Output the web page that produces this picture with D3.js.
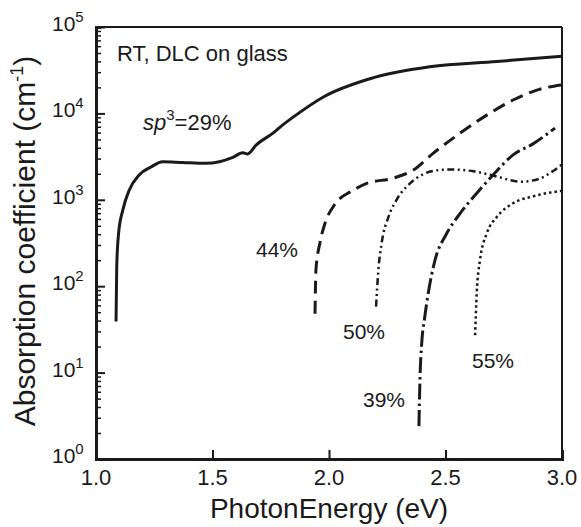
<!DOCTYPE html>
<html>
<head>
<meta charset="utf-8">
<script src="https://cdn.jsdelivr.net/npm/d3@7"></script>
<style>
  body { margin: 0; background: #fff; }
  text { font-family: "Liberation Sans", Arial, sans-serif; fill: #1a1a1a; }
</style>
</head>
<body>
<script>
// sp3 = 29% (solid)
var energy29 = [1.086, 1.089, 1.097, 1.115, 1.143, 1.185, 1.236, 1.286, 1.372, 1.472, 1.53, 1.587, 1.63, 1.651, 1.687, 1.758, 1.79, 1.858, 1.976, 2.176, 2.433, 2.72, 3.0];
var alpha29 = [39, 169, 410, 760, 1300, 1940, 2400, 2760, 2700, 2640, 2760, 3100, 3500, 3390, 4300, 5880, 6950, 9550, 15500, 25200, 34600, 39900, 45900];
// 44% (dashed)
var energy44 = [1.94, 1.944, 1.961, 1.983, 2.018, 2.05, 2.09, 2.162, 2.276, 2.362, 2.448, 2.562, 2.677, 2.79, 2.906, 3.0];
var alpha44 = [48, 155, 316, 537, 832, 1050, 1230, 1550, 1780, 2210, 3470, 5890, 9550, 14300, 19100, 21400];
// 50% (dash-dot-dot)
var energy50 = [2.202, 2.212, 2.226, 2.255, 2.29, 2.348, 2.40, 2.46, 2.52, 2.62, 2.72, 2.82, 2.90, 2.96, 3.0];
var alpha50 = [58, 155, 316, 631, 1000, 1550, 1950, 2190, 2240, 2140, 1860, 1620, 1740, 2140, 2570];
// 39% (dash-dot)
var energy39 = [2.386, 2.39, 2.398, 2.41, 2.426, 2.455, 2.505, 2.562, 2.634, 2.705, 2.79, 2.877, 2.97];
var alpha39 = [2.4, 7.6, 22, 42, 83, 200, 407, 692, 1190, 1950, 3310, 4470, 6760];
// 55% (dotted)
var energy55 = [2.627, 2.634, 2.648, 2.677, 2.72, 2.79, 2.877, 3.0];
var alpha55 = [27, 83, 200, 407, 631, 912, 1100, 1270];

var xTicks = [1.0, 1.5, 2.0, 2.5, 3.0];
var yDecades = [0, 1, 2, 3, 4, 5];

var width = 581, height = 527;
var margin = {top: 27, right: 19, bottom: 68, left: 96};

var x = d3.scaleLinear().domain([1, 3]).range([margin.left, width - margin.right]);
var y = d3.scaleLog().domain([1, 1e5]).range([height - margin.bottom, margin.top]);

var svg = d3.select("body").append("svg")
    .attr("width", width)
    .attr("height", height);

var ink = "#1a1a1a";

// frame (top/right thinner)
svg.append("line").attr("x1", x(1)).attr("x2", x(3)).attr("y1", y(1e5)).attr("y2", y(1e5))
    .attr("stroke", ink).attr("stroke-width", 2);
svg.append("line").attr("x1", x(3)).attr("x2", x(3)).attr("y1", y(1e5)).attr("y2", y(1))
    .attr("stroke", ink).attr("stroke-width", 2);

// y axis, inward ticks
var yAxis = svg.append("g")
    .attr("transform", "translate(" + x(1) + ",0)")
    .call(d3.axisLeft(y).tickValues(y.ticks()).tickSize(-5).tickFormat(""));
yAxis.select(".domain").attr("stroke", ink).attr("stroke-width", 3);
yAxis.selectAll(".tick line").attr("stroke", ink).attr("stroke-width", 1.5)
    .filter(function(d) { return Math.abs(Math.log10(d) - Math.round(Math.log10(d))) < 1e-9; })
    .attr("x2", 9).attr("stroke-width", 2);

// x axis
var xAxis = svg.append("g")
    .attr("transform", "translate(0," + y(1) + ")")
    .call(d3.axisBottom(x).tickValues(xTicks).tickSize(-9).tickFormat(""));
xAxis.select(".domain").attr("stroke", ink).attr("stroke-width", 3);
xAxis.selectAll(".tick line").attr("stroke", ink).attr("stroke-width", 2);

// x tick labels
svg.selectAll(".xlab").data(xTicks).enter().append("text")
    .attr("x", function(d) { return x(d); })
    .attr("y", y(1) + 26)
    .attr("text-anchor", "middle")
    .attr("font-size", 22)
    .text(function(d) { return d3.format(".1f")(d); });

// y tick labels 10^n
var ylab = svg.selectAll(".ylab").data(yDecades).enter().append("text")
    .attr("x", 52)
    .attr("y", function(d) { return y(Math.pow(10, d)) + 4; })
    .attr("font-size", 21);
ylab.append("tspan").text("10");
ylab.append("tspan").attr("font-size", 15).attr("dy", -9).text(function(d) { return d; });

// axis titles
svg.append("text")
    .attr("x", (x(1) + x(3)) / 2)
    .attr("y", 518)
    .attr("text-anchor", "middle")
    .attr("font-size", 28)
    .text("PhotonEnergy (eV)");

var yt = svg.append("text")
    .attr("transform", "translate(35,241) rotate(-90)")
    .attr("text-anchor", "middle")
    .attr("font-size", 30);
yt.append("tspan").text("Absorption coefficient (cm");
yt.append("tspan").attr("font-size", 18).attr("dy", -12).text("-1");
yt.append("tspan").attr("dy", 12).text(")");

// curves
var line = d3.line()
    .x(function(d) { return x(d[0]); })
    .y(function(d) { return y(d[1]); })
    .curve(d3.curveMonotoneX);

var series = [
  {e: energy29, a: alpha29, dash: null, w: 3},
  {e: energy44, a: alpha44, dash: "13,7", w: 3},
  {e: energy50, a: alpha50, dash: "7,3.5,2,3.5,2,3.5", w: 2.5},
  {e: energy39, a: alpha39, dash: "16,4,2.5,4", w: 3},
  {e: energy55, a: alpha55, dash: "2.5,3", w: 2.5}
];

svg.selectAll(".curve").data(series).enter().append("path")
    .attr("fill", "none")
    .attr("stroke", ink)
    .attr("stroke-width", function(d) { return d.w; })
    .attr("stroke-dasharray", function(d) { return d.dash; })
    .attr("d", function(d) { return line(d3.zip(d.e, d.a)); });

// annotations
svg.append("text").attr("x", 117).attr("y", 61).attr("font-size", 22).text("RT, DLC on glass");

var sp = svg.append("text").attr("x", 143).attr("y", 130).attr("font-size", 22);
sp.append("tspan").attr("font-style", "italic").text("sp");
sp.append("tspan").attr("font-size", 15).attr("dy", -10).text("3");
sp.append("tspan").attr("dy", 10).text("=29%");

var pctLabels = [["44%", 256, 257], ["50%", 343, 339], ["55%", 472, 368], ["39%", 363, 407]];
svg.selectAll(".pct").data(pctLabels).enter().append("text")
    .attr("x", function(d) { return d[1]; })
    .attr("y", function(d) { return d[2]; })
    .attr("font-size", 21)
    .text(function(d) { return d[0]; });
</script>
</body>
</html>
